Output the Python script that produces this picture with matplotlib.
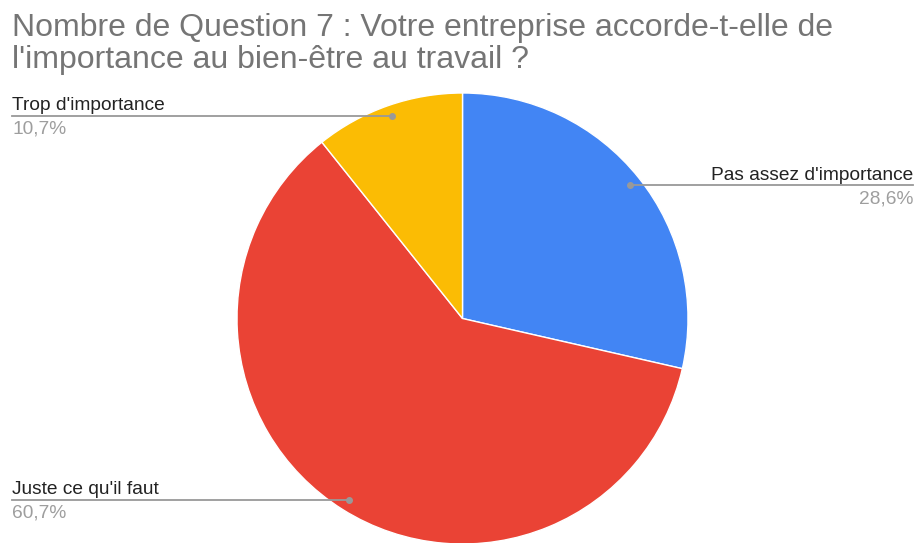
import numpy as np
import matplotlib.pyplot as plt

plt.rcParams['font.family'] = ['Liberation Sans', 'DejaVu Sans']

# données
categories = ["Pas assez d'importance", "Juste ce qu'il faut", "Trop d'importance"]
counts = [8, 17, 3]
pct_labels = ["28,6%", "60,7%", "10,7%"]
colors = ['#4285F4', '#EA4335', '#FBBC04']

W, H = 917, 543
fig = plt.figure(figsize=(W / 100, H / 100), dpi=100)
ax = fig.add_axes([0, 0, 1, 1])

# centre et rayon du camembert (pixels, y vers le haut)
cx, cy, r = 462.5, H - 318.5, 225.5
wedges, _ = ax.pie(counts, colors=colors, startangle=90, counterclock=False,
                   center=(cx, cy), radius=r,
                   wedgeprops={'edgecolor': 'white', 'linewidth': 1})
ax.set_xlim(0, W)
ax.set_ylim(0, H)
ax.set_aspect('equal')
ax.axis('off')

# étiquettes avec lignes de rappel: (côté, y de la ligne en pixels)
label_pos = [('right', 185), ('left', 500), ('left', 116)]
line_col = '#999999'
for w, name, pct, (side, ypx) in zip(wedges, categories, pct_labels, label_pos):
    ang = np.deg2rad((w.theta1 + w.theta2) / 2)
    px = cx + 0.95 * r * np.cos(ang)
    py = cy + 0.95 * r * np.sin(ang)
    yl = H - ypx
    ax.plot([px], [py], 'o', color=line_col, ms=4, zorder=5)
    if side == 'right':
        x0, x1, xt, ha = px, 913, 913, 'right'
    else:
        x0, x1, xt, ha = 12, px, 12, 'left'
    ax.plot([x0, x1], [yl, yl], color=line_col, lw=1.3, zorder=5)
    ax.text(xt, yl + 5.5, name, ha=ha, va='baseline', fontsize=13.8, color='#222222')
    ax.text(xt, yl - 18, pct, ha=ha, va='baseline', fontsize=13.8, color='#9e9e9e')

fig.text(12 / W, 1 - 13 / H,
         "Nombre de Question 7 : Votre entreprise accorde-t-elle de\nl'importance au bien-être au travail ?",
         ha='left', va='top', fontsize=23, color='#757575', linespacing=1.08)

fig.savefig('out.png', dpi=100)
